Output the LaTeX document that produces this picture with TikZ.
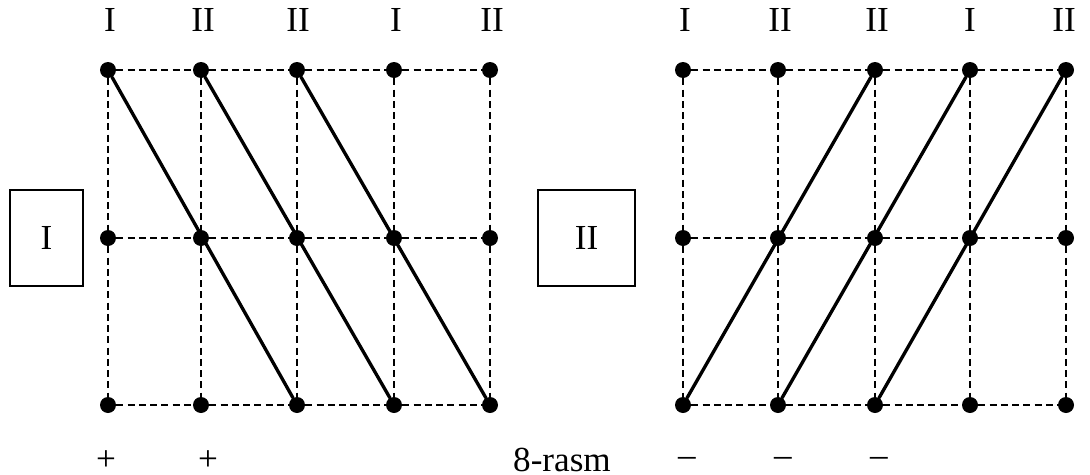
\documentclass[tikz,border=0pt]{standalone}
\usepackage{fontspec}
\setmainfont{Liberation Serif}
\tikzset{
  pt/.style={circle,fill=black,inner sep=0pt,minimum size=0.32cm},
  gridln/.style={line width=0.9pt,dash pattern=on 4pt off 2.4pt},
  diag/.style={line width=1.9pt,line cap=round},
  lbl/.style={inner sep=0pt,font=\fontsize{20}{24}\selectfont},
  framebox/.style={draw,line width=0.6pt,inner sep=0pt,minimum height=1.92cm,font=\fontsize{20}{24}\selectfont}
}
\begin{document}
\begin{tikzpicture}[x=0.02cm,y=-0.02cm]
\useasboundingbox (0,0) rectangle (1090,474);
% dots of both grids
\foreach \i/\x in {1/108,2/201,3/297,4/394,5/490}{
  \foreach \j/\y in {1/70,2/238,3/405}
    \node[pt] (L\i\j) at (\x,\y) {};
}
\foreach \i/\x in {1/683,2/778,3/875,4/970,5/1066}{
  \foreach \j/\y in {1/70,2/238,3/405}
    \node[pt] (R\i\j) at (\x,\y) {};
}
% dashed grid
\foreach \s in {L,R}{
  \foreach \j in {1,2,3}
    \draw[gridln] (\s1\j)--(\s2\j)--(\s3\j)--(\s4\j)--(\s5\j);
  \foreach \i in {1,...,5}
    \draw[gridln] (\s\i1)--(\s\i2)--(\s\i3);
}
% solid diagonals
\draw[diag] (L11)--(L33);
\draw[diag] (L21)--(L43);
\draw[diag] (L31)--(L53);
\draw[diag] (R13)--(R31);
\draw[diag] (R23)--(R41);
\draw[diag] (R33)--(R51);
% labels on top
\foreach \n/\x/\t in {1/110/I,2/203/II,3/298/II,4/396/I,5/492/II}
  \node[lbl,anchor=base] (tL\n) at (\x,31) {\t};
\foreach \n/\x/\t in {1/685/I,2/780/II,3/877/II,4/970/I,5/1064/II}
  \node[lbl,anchor=base] (tR\n) at (\x,31) {\t};
% boxes
\node[framebox,minimum width=1.46cm] (boxI) at (46.5,238) {I};
\node[framebox,minimum width=1.94cm] (boxII) at (586.5,238) {II};
% signs and caption
\node[lbl] (p1) at (106,461) {+};
\node[lbl] (p2) at (208,461) {+};
\node[lbl,anchor=base] (cap) at (562,471) {8-rasm};
\node[lbl] (m1) at (687,462) {–};
\node[lbl] (m2) at (783,462) {–};
\node[lbl] (m3) at (879,462) {–};
\end{tikzpicture}
\end{document}
